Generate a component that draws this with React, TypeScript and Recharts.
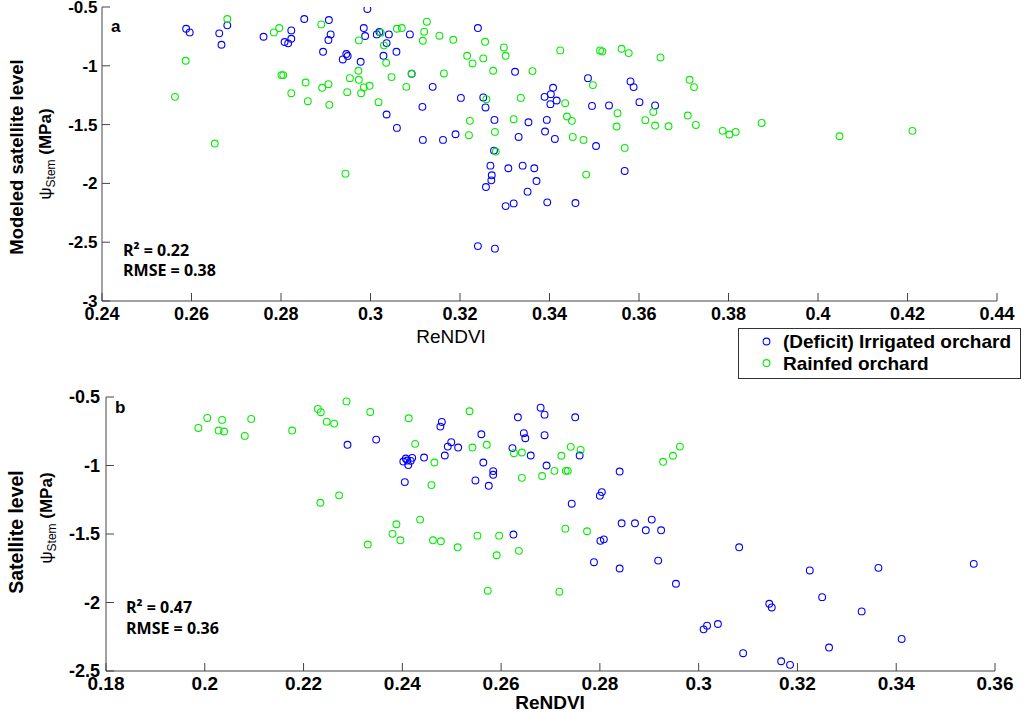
import { ScatterChart, Scatter, XAxis, YAxis } from "recharts";

type Pt = [number, number];

// panel a: modeled satellite level
const topXTicks = [0.24, 0.26, 0.28, 0.3, 0.32, 0.34, 0.36, 0.38, 0.4, 0.42, 0.44];
const topYTicks = [-3, -2.5, -2, -1.5, -1, -0.5];

// panel b: satellite level
const botXTicks = [0.18, 0.2, 0.22, 0.24, 0.26, 0.28, 0.3, 0.32, 0.34, 0.36];
const botYTicks = [-2.5, -2, -1.5, -1, -0.5];

const seriesNames = ["(Deficit) Irrigated orchard", "Rainfed orchard"];

const irrigatedA: Pt[] = [
  [0.2588, -0.685], [0.2596, -0.716], [0.2662, -0.724], [0.2667, -0.821], [0.268, -0.656],
  [0.2761, -0.753], [0.2808, -0.798], [0.2816, -0.809], [0.2823, -0.699], [0.2823, -0.77],
  [0.2852, -0.602], [0.2894, -0.881], [0.2907, -0.611], [0.2911, -0.733], [0.2906, -0.781],
  [0.2938, -0.946], [0.2946, -0.9], [0.2949, -0.917], [0.2978, -0.966], [0.2985, -0.679],
  [0.2988, -0.747], [0.2993, -0.517], [0.3014, -0.733], [0.302, -0.713], [0.3029, -0.915],
  [0.3036, -0.807], [0.3041, -0.733], [0.3058, -0.881], [0.3036, -1.414], [0.3059, -1.528],
  [0.3088, -0.733], [0.3092, -1.068], [0.3139, -1.179], [0.3116, -1.349], [0.3117, -1.63],
  [0.3162, -1.63], [0.319, -1.582], [0.3202, -1.273], [0.324, -0.679], [0.3252, -1.269],
  [0.3257, -1.354], [0.3277, -1.46], [0.3276, -1.721], [0.3268, -1.849], [0.3271, -1.931],
  [0.327, -1.974], [0.3258, -2.031], [0.324, -2.533], [0.3278, -2.555], [0.3302, -2.193],
  [0.332, -2.17], [0.3308, -1.871], [0.334, -1.849], [0.3366, -1.871], [0.3371, -1.98],
  [0.3351, -2.07], [0.3395, -2.161], [0.3458, -2.167], [0.3323, -1.051], [0.3353, -1.48],
  [0.3331, -1.605], [0.3389, -1.264], [0.3408, -1.187], [0.3403, -1.241], [0.3402, -1.326],
  [0.3416, -1.295], [0.3394, -1.46], [0.339, -1.559], [0.3412, -1.622], [0.3486, -1.105],
  [0.3495, -1.341], [0.3504, -1.682], [0.3533, -1.337], [0.3568, -1.894], [0.3581, -1.133],
  [0.3588, -1.181], [0.3601, -1.309], [0.3636, -1.337],
];

const rainfedA: Pt[] = [
  [0.268, -0.602], [0.2587, -0.957], [0.2563, -1.264], [0.2652, -1.661], [0.2784, -0.716],
  [0.2796, -0.679], [0.289, -0.648], [0.2801, -1.079], [0.2805, -1.079], [0.2823, -1.233],
  [0.2855, -1.142], [0.286, -1.301], [0.2892, -1.187], [0.2906, -1.156], [0.2908, -1.332],
  [0.2944, -1.917], [0.2948, -1.224], [0.2954, -1.105], [0.2974, -0.784], [0.2973, -1.042],
  [0.2974, -1.119], [0.2979, -1.233], [0.2985, -1.184], [0.2998, -1.17], [0.3018, -1.309],
  [0.3023, -0.719], [0.303, -0.826], [0.3035, -0.974], [0.3047, -1.096], [0.3059, -0.685],
  [0.307, -0.679], [0.3126, -0.625], [0.312, -0.71], [0.3117, -0.787], [0.3154, -0.744],
  [0.3185, -0.779], [0.3216, -0.915], [0.3228, -0.98], [0.3164, -1.065], [0.308, -1.179],
  [0.3092, -1.068], [0.3256, -0.796], [0.3252, -0.937], [0.3274, -1.042], [0.3298, -0.844],
  [0.3302, -0.915], [0.3259, -1.284], [0.3222, -1.468], [0.322, -1.59], [0.3278, -1.562],
  [0.328, -1.729], [0.332, -1.454], [0.3336, -1.273], [0.3362, -1.045], [0.3424, -0.869],
  [0.3435, -1.318], [0.3439, -1.431], [0.345, -1.468], [0.3452, -1.605], [0.3476, -1.63],
  [0.3482, -1.925], [0.3497, -1.164], [0.3513, -0.869], [0.3518, -0.878], [0.3552, -1.403],
  [0.355, -1.516], [0.3568, -1.698], [0.3561, -0.855], [0.3577, -0.892], [0.3614, -1.462],
  [0.3632, -1.392], [0.3636, -1.508], [0.3648, -0.929], [0.3666, -1.514], [0.3709, -1.423],
  [0.3713, -1.119], [0.3723, -1.181], [0.3727, -1.503], [0.3787, -1.553], [0.3802, -1.584],
  [0.3816, -1.562], [0.3874, -1.486], [0.4048, -1.599], [0.4211, -1.553],
];

const irrigatedB: Pt[] = [
  [0.2289, -0.849], [0.2347, -0.811], [0.2405, -1.121], [0.2402, -0.971], [0.2407, -0.949],
  [0.2412, -0.997], [0.241, -0.964], [0.2417, -0.966], [0.242, -0.944], [0.2444, -0.942],
  [0.2477, -0.716], [0.248, -0.682], [0.2486, -0.927], [0.2492, -0.862], [0.2499, -0.83],
  [0.2513, -0.869], [0.2548, -1.109], [0.256, -0.772], [0.2564, -0.978], [0.2575, -1.148],
  [0.2584, -1.041], [0.2584, -1.068], [0.2623, -0.873], [0.2634, -0.648], [0.2646, -0.764],
  [0.2649, -0.801], [0.266, -0.927], [0.268, -0.578], [0.2688, -0.629], [0.2688, -0.779],
  [0.2692, -1.0], [0.275, -0.648], [0.2759, -0.927], [0.2743, -1.279], [0.2625, -1.504],
  [0.284, -1.044], [0.28, -1.22], [0.2804, -1.194], [0.2844, -1.422], [0.2871, -1.422],
  [0.2905, -1.395], [0.2893, -1.473], [0.2924, -1.473], [0.2801, -1.55], [0.2808, -1.539],
  [0.2788, -1.706], [0.284, -1.752], [0.2918, -1.694], [0.2954, -1.863], [0.3082, -1.597],
  [0.3225, -1.766], [0.3364, -1.747], [0.3557, -1.718], [0.3143, -2.009], [0.3148, -2.036],
  [0.325, -1.961], [0.333, -2.065], [0.301, -2.196], [0.3017, -2.169], [0.3039, -2.157],
  [0.309, -2.37], [0.3167, -2.429], [0.3185, -2.455], [0.3264, -2.329], [0.3411, -2.266],
];

const rainfedB: Pt[] = [
  [0.1987, -0.726], [0.2005, -0.653], [0.2028, -0.745], [0.2035, -0.667], [0.2039, -0.752],
  [0.2081, -0.784], [0.2094, -0.66], [0.2177, -0.745], [0.2229, -0.587], [0.2235, -0.611],
  [0.2247, -0.68], [0.2262, -0.694], [0.2287, -0.532], [0.2335, -0.609], [0.2234, -1.272],
  [0.2272, -1.218], [0.233, -1.577], [0.238, -1.499], [0.2388, -1.429], [0.2396, -1.546],
  [0.2413, -0.655], [0.2426, -0.842], [0.2465, -0.978], [0.2459, -1.143], [0.2536, -0.604],
  [0.2542, -0.869], [0.2571, -0.849], [0.2626, -0.91], [0.2642, -0.905], [0.2642, -1.09],
  [0.2683, -1.077], [0.2708, -1.039], [0.2722, -0.929], [0.2731, -1.039], [0.2735, -1.039],
  [0.2741, -0.864], [0.2761, -0.886], [0.2928, -0.973], [0.2948, -0.929], [0.2962, -0.862],
  [0.2436, -1.395], [0.2462, -1.546], [0.2478, -1.553], [0.2512, -1.597], [0.2552, -1.512],
  [0.2596, -1.512], [0.2591, -1.655], [0.2636, -1.623], [0.2573, -1.914], [0.2718, -1.921],
  [0.273, -1.461], [0.2774, -1.48],
];

const BLUE = "#0000ff";
const GREEN = "#00ee00";
const AXIS = "#444";
const SANS = "'Liberation Sans', Arial, sans-serif";

const toRows = (pts: Pt[]) => pts.map(([x, y]) => ({ x, y }));

const ring = (color: string) => (p: any) =>
  <circle cx={p.cx} cy={p.cy} r={3.4} fill="none" stroke={color} strokeWidth={1.1} />;

const tickStyle = (size: number) => ({
  fill: "#000",
  fontSize: size,
  fontWeight: "bold" as const,
  fontFamily: SANS,
});

const App = () => {
  return (
    <div style={{ position: "absolute", left: 0, top: 0, width: 1024, height: 712, background: "#fff" }}>
      <div style={{ position: "absolute", left: 0, top: 0 }}>
        <ScatterChart width={1024} height={331} margin={{ top: 7, right: 27, bottom: 0, left: 0 }}>
          <XAxis type="number" dataKey="x" domain={[0.24, 0.44]} ticks={topXTicks} interval={0}
                 allowDataOverflow height={30} tickSize={-8} tickMargin={14.5} stroke={AXIS}
                 tick={tickStyle(18)} />
          <YAxis type="number" dataKey="y" domain={[-3, -0.5]} ticks={topYTicks} interval={0}
                 allowDataOverflow width={102} tickSize={-8} tickMargin={12.5} stroke={AXIS}
                 tick={tickStyle(17)} />
          <Scatter name={seriesNames[0]} data={toRows(irrigatedA)} shape={ring(BLUE)} isAnimationActive={false} />
          <Scatter name={seriesNames[1]} data={toRows(rainfedA)} shape={ring(GREEN)} isAnimationActive={false} />
        </ScatterChart>
      </div>
      <div style={{ position: "absolute", left: 0, top: 331 }}>
        <ScatterChart width={1024} height={381} margin={{ top: 66, right: 29, bottom: 0, left: 0 }}>
          <XAxis type="number" dataKey="x" domain={[0.18, 0.36]} ticks={botXTicks} interval={0}
                 allowDataOverflow height={41} tickSize={-8} tickMargin={14} stroke={AXIS}
                 tick={tickStyle(19)} />
          <YAxis type="number" dataKey="y" domain={[-2.5, -0.5]} ticks={botYTicks} interval={0}
                 allowDataOverflow width={106} tickSize={-8} tickMargin={14} stroke={AXIS}
                 tick={tickStyle(18)} />
          <Scatter name={seriesNames[0]} data={toRows(irrigatedB)} shape={ring(BLUE)} isAnimationActive={false} />
          <Scatter name={seriesNames[1]} data={toRows(rainfedB)} shape={ring(GREEN)} isAnimationActive={false} />
        </ScatterChart>
      </div>

      {/* labels, annotations and legend */}
      <svg width={1024} height={712} style={{ position: "absolute", left: 0, top: 0, pointerEvents: "none" }}
           fontFamily={SANS}>
        <text transform="translate(23,157) rotate(-90)" textAnchor="middle" fontSize={18.5} fontWeight="bold">
          Modeled satellite level
        </text>
        <text transform="translate(51,154) rotate(-90)" textAnchor="middle" fontSize={17}>
          <tspan>ψ</tspan>
          <tspan fontSize={12} dy={4}>Stem</tspan>
          <tspan dy={-4} fontWeight="bold"> (MPa)</tspan>
        </text>
        <text transform="translate(23,532) rotate(-90)" textAnchor="middle" fontSize={19.5} fontWeight="bold">
          Satellite level
        </text>
        <text transform="translate(52,518) rotate(-90)" textAnchor="middle" fontSize={17}>
          <tspan>ψ</tspan>
          <tspan fontSize={12} dy={4}>Stem</tspan>
          <tspan dy={-4} fontWeight="bold"> (MPa)</tspan>
        </text>

        <text x={451} y={343} textAnchor="middle" fontSize={19}>ReNDVI</text>
        <text x={550} y={709} textAnchor="middle" fontSize={19} fontWeight="bold">ReNDVI</text>

        <text x={111} y={32} fontSize={17} fontWeight="bold">a</text>
        <text x={115} y={413} fontSize={17} fontWeight="bold">b</text>

        <g fontFamily="'Open Sans', sans-serif" fontWeight="bold" fontSize={16}>
          <text x={123} y={256}>R² = 0.22</text>
          <text x={123} y={276}>RMSE = 0.38</text>
          <text x={126} y={613}>R² = 0.47</text>
          <text x={126} y={634}>RMSE = 0.36</text>
        </g>

        <rect x={738.5} y={328.5} width={282} height={50} fill="#fff" stroke="#333" strokeWidth={1} />
        <circle cx={766.5} cy={341.5} r={3.4} fill="none" stroke={BLUE} strokeWidth={1.1} />
        <circle cx={766.5} cy={363} r={3.4} fill="none" stroke={GREEN} strokeWidth={1.1} />
        <text x={783} y={348} fontSize={19} fontWeight="bold">{seriesNames[0]}</text>
        <text x={783} y={370} fontSize={19} fontWeight="bold">{seriesNames[1]}</text>
      </svg>
    </div>
  );
};

export default App;
